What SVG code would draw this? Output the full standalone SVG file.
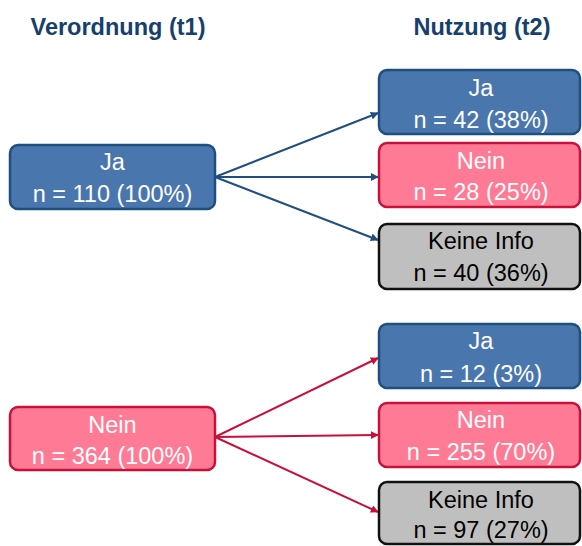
<svg xmlns="http://www.w3.org/2000/svg" width="582" height="546" viewBox="0 0 582 546">
<style>
.hdr{font-family:"Liberation Sans",Arial,sans-serif;font-weight:bold;font-size:23.5px;fill:#173f6e;text-anchor:middle}
.t{font-family:"Liberation Sans",Arial,sans-serif;font-size:23.5px;text-anchor:middle}
.w{fill:#ffffff}
.k{fill:#000000}
.blue{fill:#4a76ae;stroke:#1f4e80;stroke-width:2.5}
.pink{fill:#ff7b95;stroke:#c8103a;stroke-width:2.5}
.gray{fill:#bfbfbf;stroke:#111111;stroke-width:2.5}
.cb{stroke:#1f4e80;stroke-width:2;fill:none;marker-end:url(#ab)}
.cr{stroke:#c8103a;stroke-width:2;fill:none;marker-end:url(#ar)}
</style>
<defs>
<marker id="ab" viewBox="0 0 10 10" refX="9" refY="5" markerWidth="4" markerHeight="4" orient="auto" markerUnits="strokeWidth"><path d="M0,0 L10,5 L0,10 z" fill="#1f4e80"/></marker>
<marker id="ar" viewBox="0 0 10 10" refX="9" refY="5" markerWidth="4" markerHeight="4" orient="auto" markerUnits="strokeWidth"><path d="M0,0 L10,5 L0,10 z" fill="#c8103a"/></marker>
</defs>
<rect width="582" height="546" fill="#ffffff"/>
<text class="hdr" x="118" y="35">Verordnung (t1)</text>
<text class="hdr" x="482" y="35">Nutzung (t2)</text>
<g id="connectors">
<line class="cb" x1="215" y1="177" x2="378" y2="113"/>
<line class="cb" x1="215" y1="177" x2="378" y2="177"/>
<line class="cb" x1="215" y1="177" x2="378" y2="240"/>
<line class="cr" x1="215" y1="437" x2="378" y2="358"/>
<line class="cr" x1="215" y1="437" x2="378" y2="435"/>
<line class="cr" x1="215" y1="437" x2="378" y2="512"/>
</g>
<g id="t1-ja"><rect class="blue" x="10" y="145" width="205" height="64" rx="8"/><text class="t w" x="112.5" y="170">Ja</text><text class="t w" x="112.5" y="202">n = 110 (100%)</text></g>
<g id="t1-nein"><rect class="pink" x="10" y="407" width="205" height="63" rx="8"/><text class="t w" x="112.5" y="433">Nein</text><text class="t w" x="112.5" y="464">n = 364 (100%)</text></g>
<g id="t2-ja-1"><rect class="blue" x="379" y="70" width="201" height="64" rx="8"/><text class="t w" x="481" y="96">Ja</text><text class="t w" x="481" y="128">n = 42 (38%)</text></g>
<g id="t2-nein-1"><rect class="pink" x="379" y="143" width="201" height="64" rx="8"/><text class="t w" x="481" y="169">Nein</text><text class="t w" x="481" y="200">n = 28 (25%)</text></g>
<g id="t2-keine-1"><rect class="gray" x="379" y="224" width="201" height="65" rx="8"/><text class="t k" x="481" y="249">Keine Info</text><text class="t k" x="481" y="281">n = 40 (36%)</text></g>
<g id="t2-ja-2"><rect class="blue" x="379" y="324" width="201" height="64" rx="8"/><text class="t w" x="481" y="349">Ja</text><text class="t w" x="481" y="382">n = 12 (3%)</text></g>
<g id="t2-nein-2"><rect class="pink" x="379" y="403" width="201" height="64" rx="8"/><text class="t w" x="481" y="428">Nein</text><text class="t w" x="481" y="460">n = 255 (70%)</text></g>
<g id="t2-keine-2"><rect class="gray" x="379" y="482" width="201" height="62" rx="8"/><text class="t k" x="481" y="508">Keine Info</text><text class="t k" x="481" y="538">n = 97 (27%)</text></g>
</svg>
